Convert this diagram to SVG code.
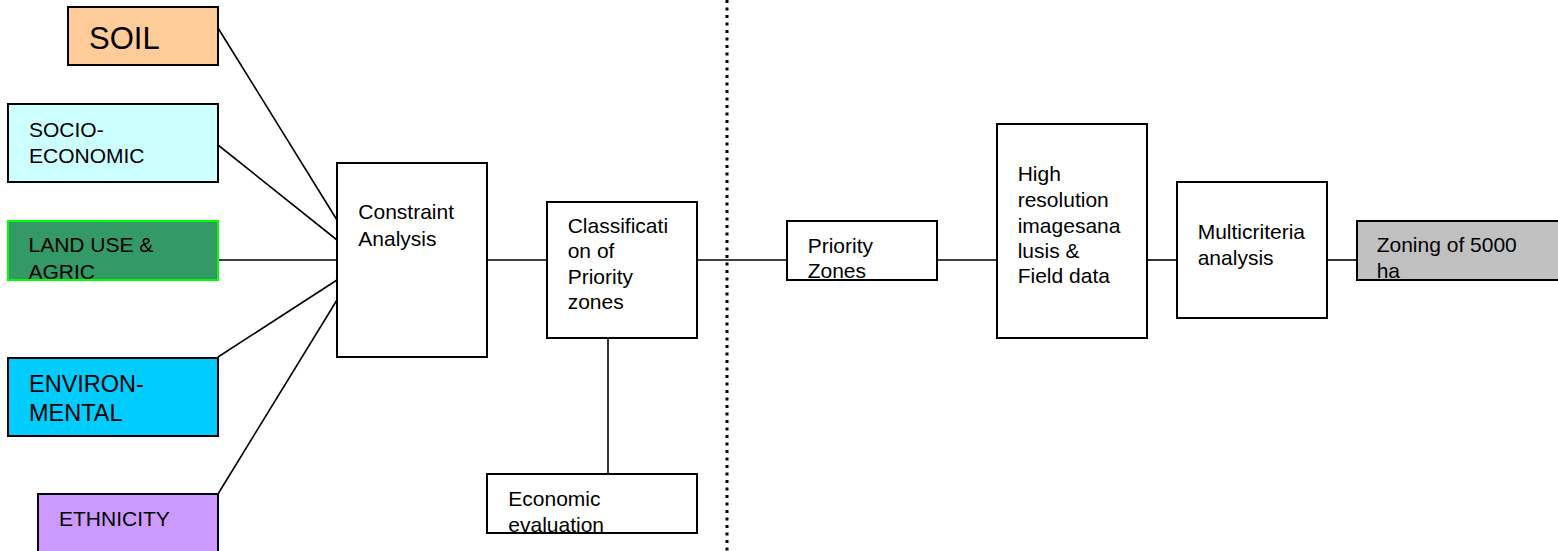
<svg xmlns="http://www.w3.org/2000/svg" width="1558" height="551" viewBox="0 0 1558 551">
<style>
.box{stroke:#000;stroke-width:2}
.t{font-family:"Liberation Sans",Arial,sans-serif;font-size:21px;fill:#000}
.ln{stroke:#000;stroke-width:1.6;fill:none}
</style>
<defs>
<clipPath id="cLand"><rect x="8" y="221" width="210" height="59"/></clipPath>
<clipPath id="cEcon"><rect x="487" y="474" width="210" height="59"/></clipPath>
<clipPath id="cPrio"><rect x="787" y="221" width="150" height="59"/></clipPath>
<clipPath id="cZone"><rect x="1357" y="221" width="210" height="59"/></clipPath>
</defs>
<rect width="1558" height="551" fill="#fff"/>
<g id="connectors">
<line class="ln" x1="218" y1="28" x2="337" y2="220"/>
<line class="ln" x1="218" y1="145" x2="337" y2="240"/>
<line class="ln" x1="218" y1="260" x2="337" y2="260"/>
<line class="ln" x1="218" y1="357" x2="337" y2="280"/>
<line class="ln" x1="218" y1="494" x2="337" y2="300"/>
<line class="ln" x1="487" y1="260" x2="547" y2="260"/>
<line class="ln" x1="608" y1="338" x2="608" y2="474"/>
<line class="ln" x1="697" y1="260" x2="787" y2="260"/>
<line class="ln" x1="937" y1="260" x2="997" y2="260"/>
<line class="ln" x1="1147" y1="260" x2="1177" y2="260"/>
<line class="ln" x1="1327" y1="260" x2="1357" y2="260"/>
<line x1="727" y1="0" x2="727" y2="551" stroke="#000" stroke-width="3" stroke-dasharray="3 4.5"/>
</g>
<g id="soil">
<rect class="box" x="68" y="7" width="150" height="58" fill="#FFCC99"/>
<text class="t" x="89" y="49" style="font-size:31px">SOIL</text>
</g>
<g id="socio">
<rect class="box" x="8" y="104" width="210" height="78" fill="#CCFFFF"/>
<text class="t" x="29" y="137">SOCIO-</text>
<text class="t" x="29" y="162.5">ECONOMIC</text>
</g>
<g id="landuse">
<rect x="8" y="221" width="210" height="59" fill="#339966"/>
<g clip-path="url(#cLand)">
<text class="t" x="28.5" y="252.3">LAND USE &amp;</text>
<text class="t" x="28.5" y="279">AGRIC</text>
</g>
<rect x="8" y="221" width="210" height="59" fill="none" stroke="#00FF00" stroke-width="2"/>
</g>
<g id="environ">
<rect class="box" x="8" y="358" width="210" height="78" fill="#00CCFF"/>
<text class="t" x="29" y="392.3" style="font-size:23.5px">ENVIRON-</text>
<text class="t" x="29" y="420.7" style="font-size:23.5px">MENTAL</text>
</g>
<g id="ethnicity">
<rect class="box" x="38" y="494" width="180" height="70" fill="#CC99FF"/>
<text class="t" x="59" y="525.7">ETHNICITY</text>
</g>
<g id="constraint">
<rect class="box" x="337" y="163" width="150" height="194" fill="#fff"/>
<text class="t" x="358.3" y="219.3">Constraint</text>
<text class="t" x="358.3" y="245.7">Analysis</text>
</g>
<g id="classification">
<rect class="box" x="547" y="202" width="150" height="136" fill="#fff"/>
<text class="t" x="567.7" y="232.7">Classificati</text>
<text class="t" x="567.7" y="258.3">on of</text>
<text class="t" x="567.7" y="284.3">Priority</text>
<text class="t" x="567.7" y="309.3">zones</text>
</g>
<g id="economic">
<rect x="487" y="474" width="210" height="59" fill="#fff"/>
<g clip-path="url(#cEcon)">
<text class="t" x="508.3" y="505.7">Economic</text>
<text class="t" x="508.3" y="531.7">evaluation</text>
</g>
<rect class="box" x="487" y="474" width="210" height="59" fill="none"/>
</g>
<g id="priority">
<rect x="787" y="221" width="150" height="59" fill="#fff"/>
<g clip-path="url(#cPrio)">
<text class="t" x="807.7" y="253.3">Priority</text>
<text class="t" x="807.7" y="278.3">Zones</text>
</g>
<rect class="box" x="787" y="221" width="150" height="59" fill="none"/>
</g>
<g id="highres">
<rect class="box" x="997" y="124" width="150" height="214" fill="#fff"/>
<text class="t" x="1017.7" y="180.7">High</text>
<text class="t" x="1017.7" y="206.7">resolution</text>
<text class="t" x="1017.7" y="232.7">imagesana</text>
<text class="t" x="1017.7" y="257.7">lusis &amp;</text>
<text class="t" x="1017.7" y="283.3">Field data</text>
</g>
<g id="multicriteria">
<rect class="box" x="1177" y="182" width="150" height="136" fill="#fff"/>
<text class="t" x="1197.7" y="239">Multicriteria</text>
<text class="t" x="1197.7" y="265">analysis</text>
</g>
<g id="zoning">
<rect x="1357" y="221" width="210" height="59" fill="#C0C0C0"/>
<g clip-path="url(#cZone)">
<text class="t" x="1376.7" y="252.3">Zoning of 5000</text>
<text class="t" x="1376.7" y="278.3">ha</text>
</g>
<rect class="box" x="1357" y="221" width="210" height="59" fill="none"/>
</g>
</svg>
